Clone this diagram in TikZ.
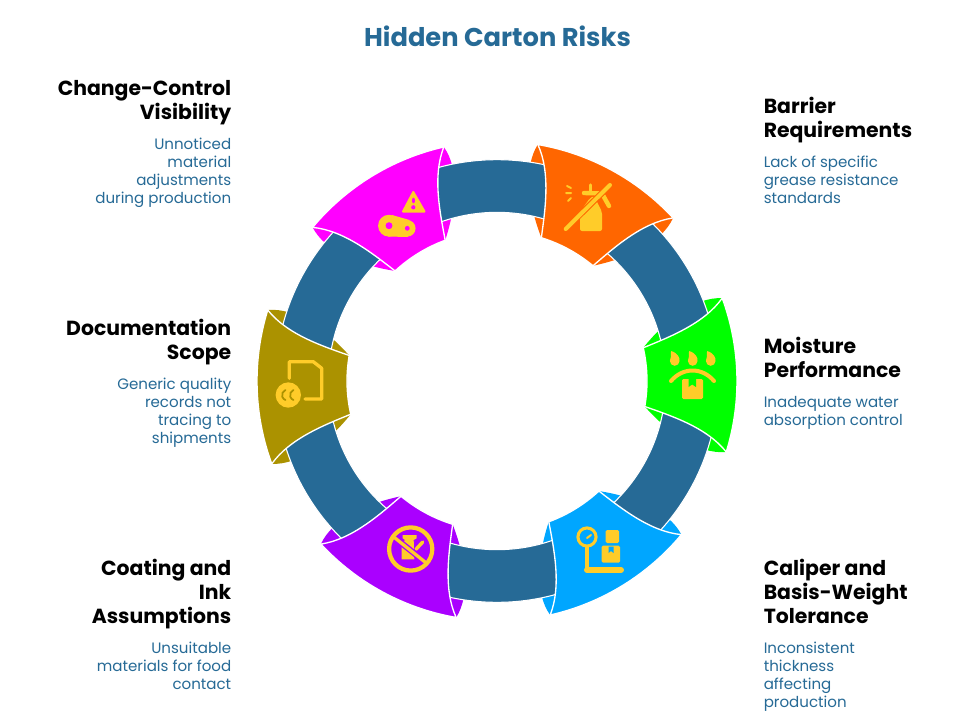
\documentclass[tikz,border=0pt]{standalone}
\usepackage{fontspec}
\setmainfont{Poppins}
\usetikzlibrary{positioning}
\definecolor{bandblue}{HTML}{266A96}
\definecolor{iconyellow}{HTML}{FFCC29}
\definecolor{petalorange}{HTML}{FF6600}
\definecolor{petalgreen}{HTML}{00FF00}
\definecolor{petalblue}{HTML}{00A6FF}
\definecolor{petalpurple}{HTML}{AA00FF}
\definecolor{petalolive}{HTML}{AB9200}
\definecolor{petalpink}{HTML}{FF00FF}
\tikzset{
    pics/petalear/.style={code={
        \fill[#1] (18.7:240) .. controls (21.5:215) and (18.5:180) .. (11.3:150)
            -- (0:170) -- (-11.3:150) .. controls (-18.5:180) and (-21.5:215) .. (-18.7:240) -- cycle;
    }},
    pics/petal/.style={code={
        \fill[#1,draw=white,line width=1pt] (18.7:240) arc[start angle=18.7,end angle=-18.7,radius=180pt]
            .. controls (-14:215) and (-12.8:178) .. (-11.3:150)
            arc[start angle=-11.3,end angle=11.3,radius=112.5pt]
            .. controls (12.8:178) and (14:215) .. cycle;
    }}
}
\begin{document}
\begin{tikzpicture}[x=.75pt,y=.75pt,
            head node/.style={font=\fontsize{15.3}{18}\selectfont\bfseries,inner sep=0pt,
                execute at begin node=\strut,execute at end node=\strut},
            text node/.style={font=\fontsize{11.3}{13.5}\selectfont,text=bandblue,inner sep=0pt,
                execute at begin node=\strut,execute at end node=\strut},
            left side/.style={align=right,anchor=north east},
            right side/.style={align=left,anchor=north west},
            icon/.style={fill=iconyellow},
            icon line/.style={draw=iconyellow,line cap=round,line join=round}]

        \useasboundingbox[fill=white] (0,0) rectangle (954,-728);

        % Define petals, ears below the ring
        \pic[rotate=61.5] at (497,-381) {petalear=petalorange};
        \pic[rotate=1.5] at (497,-381) {petalear=petalgreen};
        \pic[rotate=-58.5] at (497,-381) {petalear=petalblue};
        \pic[rotate=-118.5] at (497,-381) {petalear=petalpurple};
        \pic[rotate=181.5] at (497,-381) {petalear=petalolive};
        \pic[rotate=121.5] at (497,-381) {petalear=petalpink};

        \fill[bandblue,draw=white,line width=.8pt,even odd rule] (497,-381) circle[radius=166pt] (497,-381) circle[radius=126.5pt];

        \pic[rotate=61.5] at (497,-381) {petal=petalorange};
        \pic[rotate=1.5] at (497,-381) {petal=petalgreen};
        \pic[rotate=-58.5] at (497,-381) {petal=petalblue};
        \pic[rotate=-118.5] at (497,-381) {petal=petalpurple};
        \pic[rotate=181.5] at (497,-381) {petal=petalolive};
        \pic[rotate=121.5] at (497,-381) {petal=petalpink};

        % Spray bottle
        \fill[icon,rounded corners=1.5pt] (590,-198) -- (594,-196) -- (602,-212) -- (602,-231) -- (580,-231) -- (580,-212) -- cycle;
        \draw[icon line,line width=3.3pt] (584,-193) -- (602,-193.5) -- (609,-206);
        \draw[icon line,line width=2.6pt] (590.5,-185) -- (590.5,-193);
        \draw[icon line,line width=1.5pt] (566,-193) -- (571,-193) (567,-186) -- (571,-188) (568,-201) -- (571,-198);
        \draw[petalorange,line width=4.6pt] (571,-223.5) -- (606,-189);
        \draw[icon line,line width=3pt] (565.7,-229) -- (610,-185);

        % Drops and box
        \fill[icon] (671,-351) .. controls (678,-353) and (680,-358) .. (679.5,-361) arc[start angle=0,end angle=-180,radius=3.6pt] .. controls (671,-357) .. cycle;
        \fill[icon] (689,-351) .. controls (696,-353) and (698,-358) .. (697.5,-361) arc[start angle=0,end angle=-180,radius=3.6pt] .. controls (689,-357) .. cycle;
        \fill[icon] (707,-351) .. controls (714,-353) and (716,-358) .. (715.5,-361) arc[start angle=0,end angle=-180,radius=3.6pt] .. controls (707,-357) .. cycle;
        \draw[icon line,line width=3pt] (671,-381) .. controls (683,-367) and (702,-367) .. (714,-381);
        \fill[icon,rounded corners=1pt] (682,-379) rectangle (703,-399);
        \fill[petalgreen] (688.5,-379) -- (696,-379) -- (696,-387) -- (692.2,-384.5) -- (688.5,-387) -- cycle;

        % Scale and boxes
        \draw[icon line,line width=2.3pt] (587,-537) circle[radius=6.8pt];
        \draw[icon line,line width=1.5pt] (587,-538) -- (591,-535);
        \draw[icon line,line width=3pt] (587,-547) -- (587,-570);
        \draw[icon line,line width=4.5pt] (587,-570) -- (621,-570);
        \fill[icon,rounded corners=1pt] (605.7,-530) rectangle (619,-543);
        \fill[icon,rounded corners=1pt] (601.7,-545.7) rectangle (620,-562.7);
        \fill[petalblue] (608.5,-546.5) -- (613.5,-546.5) -- (613.5,-553) -- (611,-551) -- (608.5,-553) -- cycle;

        % Crossed flask
        \draw[icon line,line width=3.2pt] (410.7,-549) circle[radius=16.2pt];
        \fill[icon] (402.7,-535) -- (416.7,-535) -- (416.7,-538.3) -- (413.7,-540) -- (414.3,-559.3) -- (401.7,-559.3) -- (401.7,-544) -- (405,-540) -- (402.7,-538.3) -- cycle;
        \draw[icon line,line width=2.6pt] (416,-549.3) -- (422.7,-542);
        \draw[petalpurple,line width=4.5pt] (397,-539.6) -- (424,-561);
        \draw[icon line,line width=2.5pt] (395,-538) -- (425,-562);

        % Document and cc badge
        \draw[icon line,line width=2.5pt] (289.3,-378.3) -- (289.3,-361.7) -- (313.3,-361.7) -- (321.7,-368.3) -- (321.7,-399) -- (305,-399);
        \fill[icon] (288.3,-395) circle[radius=9.5pt];
        \draw[petalolive,line width=1.3pt,line cap=round] (285.5,-390) arc[start angle=110,end angle=250,radius=4pt];
        \draw[petalolive,line width=1.3pt,line cap=round] (293.5,-390) arc[start angle=110,end angle=250,radius=4pt];

        % Warning and belt link
        \fill[icon,draw=iconyellow,line width=1.5pt,line join=round] (413.3,-192) -- (424.5,-211.5) -- (403,-211.5) -- cycle;
        \draw[petalpink,line width=2pt,line cap=round] (413.3,-199) -- (413.3,-202);
        \fill[petalpink] (413.3,-207.3) circle[radius=1.6pt];
        \fill[icon] (389,-225.7) circle[radius=8.2pt] (407.3,-228.3) circle[radius=6.2pt];
        \fill[icon] (392,-215) -- (409.5,-220) -- (408,-236.8) -- (388,-236.7) -- cycle;
        \fill[petalpink] (389,-225.7) circle[radius=2.6pt] (407.3,-228.3) circle[radius=1.8pt];

        % Define labels
        \node[font=\fontsize{19.3}{22}\selectfont\bfseries,text=bandblue,inner sep=0pt] (title) at (497.5,-36.5) {Hidden Carton Risks};

        \node[head node,left side] (changehead) at (231.5,-80) {Change-Control\\Visibility};
        \node[text node,left side] (changetext) [below=8.2pt of changehead.south east,anchor=north east] {Unnoticed\\material\\adjustments\\during production};

        \node[head node,left side] (dochead) at (231.5,-319) {Documentation\\Scope};
        \node[text node,left side] (doctext) [below=8.2pt of dochead.south east,anchor=north east] {Generic quality\\records not\\tracing to\\shipments};

        \node[head node,left side] (coathead) at (231.5,-559) {Coating and\\Ink\\Assumptions};
        \node[text node,left side] (coattext) [below=8.2pt of coathead.south east,anchor=north east] {Unsuitable\\materials for food\\contact};

        \node[head node,right side] (barrierhead) at (763.5,-97) {Barrier\\Requirements};
        \node[text node,right side] (barriertext) [below=8.2pt of barrierhead.south west,anchor=north west] {Lack of specific\\grease resistance\\standards};

        \node[head node,right side] (moisthead) at (763.5,-337) {Moisture\\Performance};
        \node[text node,right side] (moisttext) [below=8.2pt of moisthead.south west,anchor=north west] {Inadequate water\\absorption control};

        \node[head node,right side] (calihead) at (763.5,-559) {Caliper and\\Basis-Weight\\Tolerance};
        \node[text node,right side] (calitext) [below=8.2pt of calihead.south west,anchor=north west] {Inconsistent\\thickness\\affecting\\production};

\end{tikzpicture}
\end{document}
